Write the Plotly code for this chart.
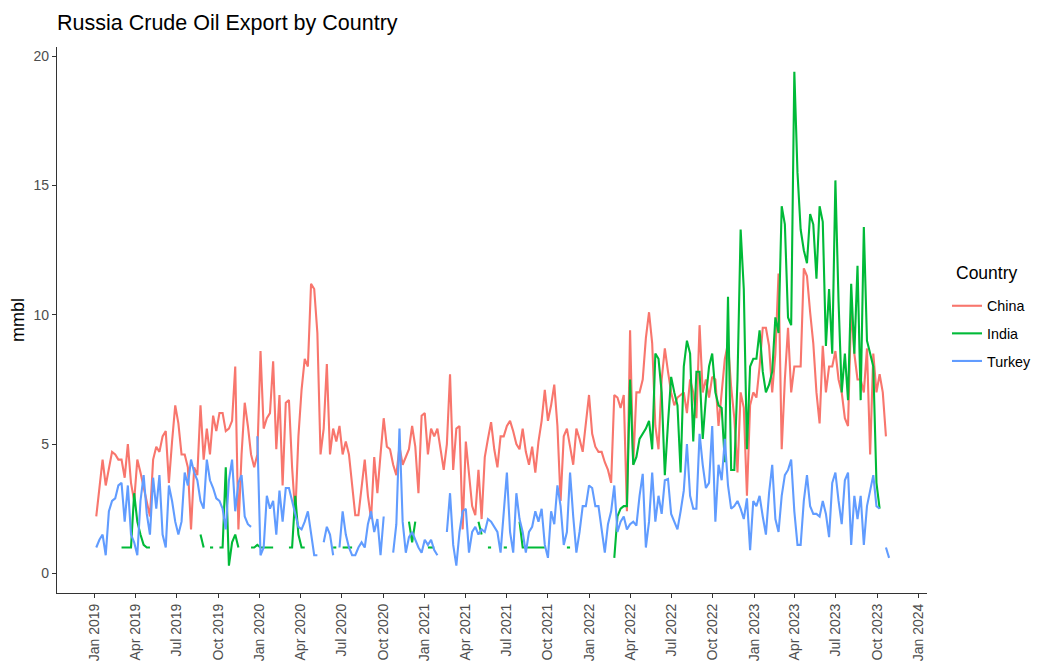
import pandas as pd
import plotly.graph_objects as go

N = None

# Weekly observations starting 2019-01-04
start_date = "2019-01-04"

china = [
    2.2, 3.2, 4.4, 3.4, 4.1, 4.7, 4.6, 4.4, 4.4, 3.7, 5.0, 3.5, 2.8,
    4.4, 3.9, 3.3, 2.8, 2.2, 4.4, 4.9, 4.7, 5.3, 5.5, 3.5, 5.1, 6.5,
    5.8, 4.6, 4.6, 4.1, 1.7, 4.1, 3.8, 6.5, 4.4, 5.6, 4.6, 6.1, 5.5,
    6.2, 6.2, 5.5, 5.6, 5.9, 8.0, 1.7, 4.6, 6.6, 5.7, 4.6, 4.1, 4.6,
    8.6, 5.6, 6.0, 6.2, 8.2, 4.8, 6.9, 3.4, 6.6, 6.7, 4.1, 2.25, 5.3,
    7.1, 8.3, 8.0, 11.2, 11.0, 9.3, 4.6, 5.6, 8.1, 4.6, 5.6, 5.1, 5.7,
    4.6, 5.1, 4.6, 3.4, 2.25, 2.25, 3.4, 4.4, 3.0, 2.1, 4.5, 3.1, 4.6,
    6.0, 4.9, 4.8, 4.2, 3.8, 4.9, 4.2, 4.5, 4.8, 5.7, 4.9, 3.1, 6.1,
    6.2, 4.6, 5.6, 5.3, 5.6, 4.8, 4.0, 5.0, 7.7, 4.0, 5.6, 5.7, 1.7,
    5.1, 3.8, 2.6, 2.25, 4.0, 2.1, 4.5, 5.2, 5.85, 4.8, 4.1, 5.3, 5.3,
    5.7, 5.9, 5.5, 5.0, 4.8, 5.6, 4.7, 4.2, 4.9, 3.9, 5.1, 5.9, 7.1,
    5.9, 6.5, 7.3, 5.7, 2.8, 5.3, 5.6, 4.9, 4.2, 5.6, 5.2, 4.7, 5.8,
    6.9, 5.4, 4.9, 4.7, 4.7, 4.3, 4.0, 3.5, 6.9, 6.8, 6.4, 6.9, 2.4,
    9.4, 4.2, 7.0, 7.0, 7.5, 9.1, 10.1, 8.9, 5.7, 4.8, 7.5, 8.7, 7.8,
    7.0, 6.5, 6.8, 6.9, 7.0, 6.2, 7.5, 7.0, 6.0, 9.6, 7.0, 7.5, 6.8,
    7.6, 7.5, 5.7, 7.0, 8.3, 8.9, 7.2, 6.0, 3.9, 7.0, 6.4, 3.0, 6.5,
    7.0, 6.8, 8.0, 9.5, 9.5, 8.8, 7.0, 8.5, 11.6, 4.8, 7.5, 9.5, 7.0,
    8.0, 8.0, 8.0, 11.8, 11.5, 10.1, 8.9, 7.0, 5.8, 8.8, 7.0, 8.0, 8.0,
    8.6, 7.5, 7.0, 6.0, 5.7, 10.3, 8.5, 7.5, 7.5, 7.0, 8.7, 4.6, 8.5,
    7.0, 7.7, 7.0, 5.3, N,
]

india = (
    [N] * 8
    + [1.0, 1.0, 1.0, 1.0, 3.1, 2.0, 1.5, 1.1, 1.0, 1.0]
    + [N] * 15
    + [1.5, 1.0, N, 1.0, 1.0, N, 1.0, 1.0, 4.1, 0.3, 1.2, 1.5, 1.0]
    + [N] * 3
    + [1.0, 1.0, 1.1, 1.0, 1.0, 1.0, 1.0, 1.0]
    + [N] * 4
    + [1.0, 1.0, 3.0, 1.5, 1.0, 1.0]
    + [N] * 8
    + [1.0, 1.0, N, 1.0, 1.0, 1.0, 1.0]
    + [N] * 17
    + [2.0, 1.2, 2.0]
    + [N] * 3
    + [1.0, 1.0, 1.0]
    + [N] * 13
    + [2.0, 1.5, N, 1.0, 1.0]
    + [N] * 3
    + [1.0, 1.0]
    + [N] * 3
    + [2.0, 1.0, 1.0, 1.0, 1.0, 1.0, 1.0, 1.0, 1.0]
    + [N] * 6
    + [1.0, 1.0]
    + [N] * 13
    + [0.6, 2.2, 2.5, 2.6, 2.6, 7.5, 4.2, 4.5, 5.2, 5.4, 5.6, 5.9, 4.8,
       8.5, 8.3, 7.0, 3.8, 5.8, 7.6, 7.0, 6.5, 3.9, 8.0, 9.0, 8.5, 5.1,
       7.8, 7.8, 5.2, 6.8, 8.0, 8.5, 7.0, 6.5, 6.4, 4.3, 10.7, 4.0, 4.0,
       7.5, 13.3, 11.0, 4.8, 8.0, 8.3, 8.3, 9.4, 7.8, 7.0, 7.3, 7.8, 9.9,
       9.3, 14.2, 13.5, 9.9, 9.6, 19.4, 15.5, 13.3, 12.5, 12.0, 13.9,
       13.5, 11.4, 14.2, 13.6, 8.8, 11.0, 8.5, 15.2, 10.5, 7.0, 8.5, 6.7,
       11.2, 8.5, 11.9, 6.7, 13.4, 9.0, 8.5, 8.0, 3.5, 2.5, N, N, N]
)

turkey = [
    1.0, 1.3, 1.5, 0.7, 2.4, 2.8, 2.9, 3.4, 3.5, 2.0, 3.4, 1.5, 1.2,
    0.7, 2.8, 3.8, 2.3, 1.5, 3.7, 2.5, 3.8, 1.5, 1.0, 3.4, 2.8, 2.0,
    1.5, 2.0, 3.9, 3.4, 4.4, 3.9, 3.6, 2.8, 2.5, 4.4, 3.6, 3.3, 2.9,
    2.8, 2.5, 1.7, 3.6, 4.4, 2.4, 3.5, 3.8, 2.2, 1.9, 1.8, N, 5.3,
    0.7, 1.0, 3.0, 2.5, 2.8, 1.5, 3.2, 2.0, 3.3, 3.3, 2.8, 2.3, 1.8,
    1.7, 2.0, 2.4, 1.5, 0.7, 0.7, N, 1.2, 1.8, 1.5, 0.7, N, 1.0, 2.4,
    1.5, 1.0, 0.7, 0.7, 1.0, 1.2, 1.0, 1.9, 2.4, 1.6, 2.1, 0.7, 2.2,
    N, N, 0.8, 1.9, 5.6, 2.0, 0.8, 1.4, 1.6, 1.3, 1.0, 0.8, 1.3, 1.1,
    1.3, 0.9, 0.7, N, N, 1.6, 3.1, 1.1, 0.3, 1.6, 2.4, 2.5, 0.8, 1.6,
    1.8, 1.5, 1.7, 1.6, 2.1, 2.0, 1.8, 1.6, 0.8, 2.5, 3.9, 1.6, 0.8,
    3.1, 2.1, 1.6, 0.8, 1.6, 1.8, 2.4, 2.0, 2.5, 1.1, 0.6, 2.4, 1.9,
    3.4, 2.6, 1.1, 1.6, 3.9, 2.2, 0.8, 1.6, 2.6, 2.6, 3.4, 3.3, 2.6,
    2.6, 1.6, 0.8, 1.9, 2.4, 3.4, 1.6, 2.0, 2.2, 1.7, 1.9, 2.0, 1.85,
    3.0, 3.85, 1.0, 2.0, 3.9, 2.0, 3.0, 2.3, 3.6, 3.65, 2.3, 2.0, 1.7,
    2.4, 3.2, 5.0, 3.0, 2.5, 2.5, 5.4, 4.2, 3.3, 3.5, 5.7, 2.0, 4.2,
    3.6, 5.2, 3.4, 2.5, 2.6, 2.8, 2.5, 2.1, 2.9, 0.9, 2.8, 2.6, 3.0,
    2.2, 1.5, 3.1, 4.2, 2.1, 1.6, 3.0, 3.8, 4.0, 4.4, 2.4, 1.1, 1.1,
    2.8, 3.8, 2.6, 2.3, 2.3, 2.2, 2.8, 2.3, 1.4, 3.5, 3.9, 2.8, 1.9,
    3.6, 3.9, 1.1, 3.0, 2.1, 3.0, 1.1, 2.6, 3.2, 3.8, 2.6, 2.5, N,
    1.0, 0.6,
]

countries = ["China", "India", "Turkey"]
series = [china, india, turkey]
colors = ["#F8766D", "#00BA38", "#619CFF"]

x_tick_dates = [
    "2019-01-01", "2019-04-01", "2019-07-01", "2019-10-01",
    "2020-01-01", "2020-04-01", "2020-07-01", "2020-10-01",
    "2021-01-01", "2021-04-01", "2021-07-01", "2021-10-01",
    "2022-01-01", "2022-04-01", "2022-07-01", "2022-10-01",
    "2023-01-01", "2023-04-01", "2023-07-01", "2023-10-01",
    "2024-01-01",
]
x_tick_labels = [pd.Timestamp(d).strftime("%b %Y") for d in x_tick_dates]
y_ticks = [0, 5, 10, 15, 20]

FONT = "Liberation Sans, Arial"

fig = go.Figure()
for name, vals, col in zip(countries, series, colors):
    dates = pd.date_range(start_date, periods=len(vals), freq="7D")
    fig.add_trace(go.Scatter(
        x=dates, y=vals, mode="lines", name=name, legendgroup=name,
        line=dict(color=col, width=2.1), connectgaps=False,
    ))

axis_common = dict(
    showgrid=False, zeroline=False, showline=True, linecolor="#333333",
    linewidth=1.1, ticks="outside", ticklen=4, tickcolor="#333333",
    tickwidth=1.1, tickfont=dict(family=FONT, size=14, color="#4D4D4D"),
    automargin=False,
)

fig.update_layout(
    width=1041, height=664,
    margin=dict(l=49, r=119, t=39, b=79),
    paper_bgcolor="white", plot_bgcolor="white",
    font=dict(family=FONT, color="black"),
    title=dict(text="Russia Crude Oil Export by Country", x=0, xref="paper",
               xanchor="left", y=1 - 14 / 664, yref="container", yanchor="middle",
               font=dict(size=21.5, color="black")),
    xaxis=dict(type="date", range=["2018-10-09", "2024-01-19"],
               tickvals=x_tick_dates, ticktext=x_tick_labels, tickangle=-90,
               **axis_common),
    yaxis=dict(range=[-0.76, 20.36], tickvals=y_ticks,
               title=dict(text="mmbl", font=dict(size=18, color="black")),
               **axis_common),
    legend=dict(x=1.023, y=0.555, xanchor="left", yanchor="top",
                font=dict(size=14.3), traceorder="grouped", tracegroupgap=6,
                itemwidth=30, bgcolor="rgba(0,0,0,0)"),
    showlegend=True,
    annotations=[dict(text="Country", x=1.031, y=0.586, xref="paper", yref="paper",
                      xanchor="left", yanchor="middle", showarrow=False,
                      font=dict(size=17.5, color="black"))],
)

fig.write_html("out.html")
